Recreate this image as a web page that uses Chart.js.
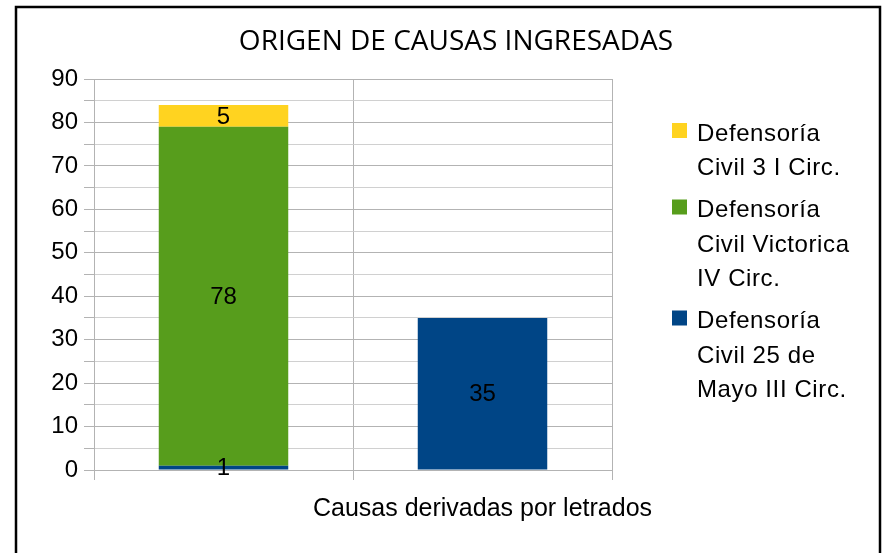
<!DOCTYPE html>
<html>
<head>
<meta charset="utf-8">
<script src="https://cdn.jsdelivr.net/npm/chart.js@4.4.0/dist/chart.umd.min.js"></script>
<style>
  html, body { margin: 0; padding: 0; background: #fff; }
  #wrap { width: 883px; height: 553px; position: relative; }
</style>
</head>
<body>
<div id="wrap"><canvas id="chart" width="883" height="553"></canvas></div>
<script>
// data
const chartTitle = "ORIGEN DE CAUSAS INGRESADAS";
const categories = ["", "Causas derivadas por letrados"];
const seriesNames = [
  "Defensoría\nCivil 25 de\nMayo III Circ.",
  "Defensoría\nCivil Victorica\nIV Circ.",
  "Defensoría\nCivil 3 I Circ."
];
const mayoValues = [1, 35];
const victoricaValues = [78, 0];
const circ1Values = [5, 0];
const seriesColors = ["#004586", "#579d1c", "#ffd320"];

const FONT = "'Liberation Sans', Arial, sans-serif";

// outer frame + title
const framePlugin = {
  id: "frame",
  beforeDraw(chart) {
    const ctx = chart.ctx;
    ctx.save();
    ctx.fillStyle = "#fff";
    ctx.fillRect(0, 0, chart.width, chart.height);
    ctx.strokeStyle = "#000";
    ctx.lineWidth = 2.5;
    ctx.strokeRect(16, 7, 864, 600);
    ctx.fillStyle = "#000";
    ctx.font = "28px 'Open Sans', sans-serif";
    ctx.textAlign = "center";
    ctx.textBaseline = "middle";
    ctx.fillText(chartTitle, 456, 42);
    ctx.restore();
  }
};

// value labels in the middle of each segment
const valueLabels = {
  id: "valueLabels",
  afterDatasetsDraw(chart) {
    const ctx = chart.ctx;
    ctx.save();
    ctx.font = "24px " + FONT;
    ctx.fillStyle = "#000";
    ctx.textAlign = "center";
    ctx.textBaseline = "middle";
    chart.data.datasets.forEach((ds, i) => {
      chart.getDatasetMeta(i).data.forEach((bar, j) => {
        const v = ds.data[j];
        if (!v) return;
        ctx.fillText(String(v), bar.x, (bar.y + bar.base) / 2 + 1);
      });
    });
    ctx.restore();
  }
};

// legend on the right, multi-line, reversed order
const sideLegend = {
  id: "sideLegend",
  afterDraw(chart) {
    const ctx = chart.ctx;
    ctx.save();
    ctx.font = "24px " + FONT;
    ctx.letterSpacing = "0.6px";
    ctx.textBaseline = "middle";
    ctx.textAlign = "left";
    let y = 133;
    const ds = chart.data.datasets.slice().reverse();
    ds.forEach((d) => {
      ctx.fillStyle = d.backgroundColor;
      ctx.fillRect(672, y - 10, 15, 15);
      ctx.fillStyle = "#000";
      const lines = d.label.split("\n");
      lines.forEach((ln, n) => {
        ctx.fillText(ln, 697, y + 1);
        if (n < lines.length - 1) y += 34.5;
      });
      y += 42;
    });
    ctx.restore();
  }
};

const ctx = document.getElementById("chart").getContext("2d");
new Chart(ctx, {
  type: "bar",
  data: {
    labels: categories,
    datasets: [
      { label: seriesNames[0], data: mayoValues, backgroundColor: seriesColors[0] },
      { label: seriesNames[1], data: victoricaValues, backgroundColor: seriesColors[1] },
      { label: seriesNames[2], data: circ1Values, backgroundColor: seriesColors[2] }
    ]
  },
  options: {
    responsive: false,
    animation: false,
    layout: { padding: { left: 0, right: 271, top: 79, bottom: 0 } },
    barPercentage: 0.5,
    categoryPercentage: 1,
    plugins: {
      legend: { display: false },
      tooltip: { enabled: false },
      title: { display: false }
    },
    scales: {
      x: {
        stacked: true,
        grid: { offset: true, color: "#b3b3b3", tickLength: 10, drawTicks: true },
        border: { display: false },
        ticks: {
          color: "#000",
          font: { family: FONT, size: 25 },
          padding: 14,
          maxRotation: 0,
          autoSkip: false
        },
        afterFit(s) { s.height = 83; }
      },
      y: {
        stacked: true,
        min: 0,
        max: 90,
        grid: {
          color: (c) => (c.tick && c.tick.value % 10 === 0 ? "#b3b3b3" : "#d0d0d0"),
          tickColor: "#b3b3b3",
          tickLength: 10
        },
        border: { color: "#b3b3b3" },
        ticks: {
          stepSize: 5,
          maxTicksLimit: 30,
          autoSkip: false,
          color: "#000",
          padding: 6,
          font: { family: FONT, size: 24 },
          callback: (v) => (v % 10 === 0 ? v : "")
        },
        afterFit(s) { s.width = 94; }
      }
    }
  },
  plugins: [framePlugin, valueLabels, sideLegend]
});
</script>
</body>
</html>
